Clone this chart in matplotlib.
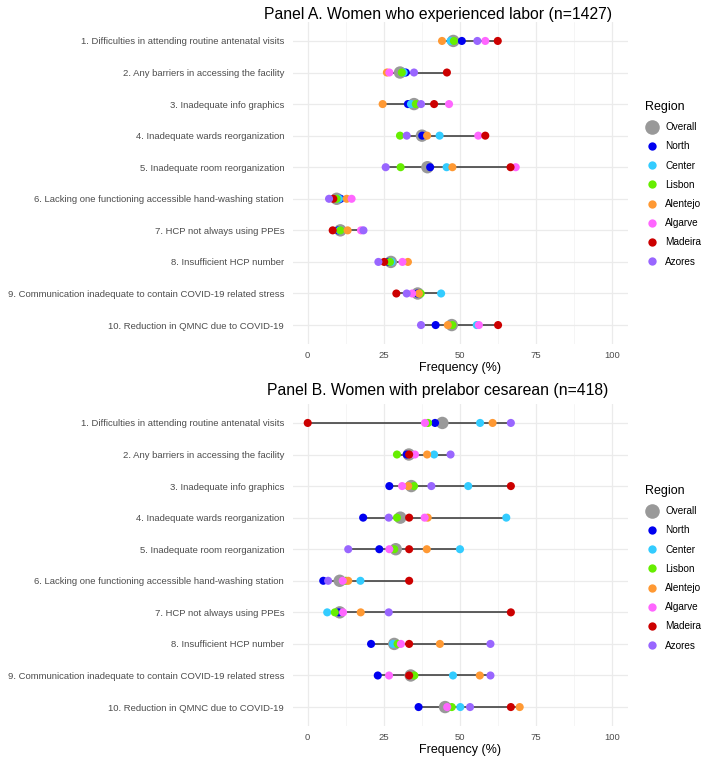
import matplotlib
matplotlib.use('Agg')
import matplotlib.pyplot as plt
from matplotlib.lines import Line2D
import numpy as np

plt.rcParams['font.family'] = ['Liberation Sans', 'DejaVu Sans']

items = ['1. Difficulties in attending routine antenatal visits',
         '2. Any barriers in accessing the facility',
         '3. Inadequate info graphics',
         '4. Inadequate wards reorganization',
         '5. Inadequate room reorganization',
         '6. Lacking one functioning accessible hand-washing station',
         '7. HCP not always using PPEs',
         '8. Insufficient HCP number',
         '9. Communication inadequate to contain COVID-19 related stress',
         '10. Reduction in QMNC due to COVID-19']

regions = ['Overall', 'North', 'Center', 'Lisbon', 'Alentejo', 'Algarve', 'Madeira', 'Azores']
colors = ['#999999', '#0000F0', '#33CCFF', '#66EE00', '#FF9933', '#FF66FF', '#CC0000', '#9966FF']

# Panel A - women who experienced labor (%)
a_overall  = [47.8, 30.3, 34.9, 37.5, 39.3,  9.5, 10.7, 27.3, 36.1, 47.3]
a_north    = [50.6, 32.2, 32.9, 37.6, 40.2, 10.8, 10.0, 26.5, 36.0, 42.0]
a_center   = [46.9, 31.5, 33.9, 43.3, 45.6, 10.3, 10.5, 27.5, 43.8, 55.5]
a_lisbon   = [48.0, 30.9, 35.5, 30.3, 30.5,  9.5, 10.7, 27.0, 37.1, 47.5]
a_alentejo = [44.1, 26.0, 24.6, 39.2, 47.5, 12.8, 13.1, 32.9, 36.5, 46.0]
a_algarve  = [58.3, 26.8, 46.4, 56.0, 68.3, 14.4, 17.5, 31.1, 34.3, 56.2]
a_madeira  = [62.4, 45.7, 41.5, 58.3, 66.6,  8.4,  8.2, 25.1, 29.1, 62.5]
a_azores   = [55.7, 34.9, 37.2, 32.5, 25.6,  7.0, 18.3, 23.2, 32.5, 37.2]

# Panel B - women with prelabor cesarean (%)
b_overall  = [44.2, 33.2, 34.0, 30.4, 28.9, 10.5, 10.5, 28.4, 33.8, 45.1]
b_north    = [41.8, 32.5, 26.8, 18.2, 23.5,  5.1, 10.2, 20.8, 23.0, 36.4]
b_center   = [56.6, 41.5, 52.7, 65.2, 50.0, 17.3,  6.4, 28.0, 47.7, 50.1]
b_lisbon   = [39.5, 29.3, 34.9, 29.3, 28.4, 12.5,  8.9, 29.5, 35.0, 47.3]
b_alentejo = [60.7, 39.2, 33.0, 39.4, 39.1, 13.3, 17.4, 43.4, 56.5, 69.6]
b_algarve  = [38.5, 35.2, 31.0, 38.4, 26.8, 11.5, 11.6, 30.6, 26.7, 45.8]
b_madeira  = [0.0, 33.3, 66.7, 33.3, 33.3, 33.3, 66.7, 33.3, 33.3, 66.7]
b_azores   = [66.7, 46.9, 40.6, 26.6, 13.3,  6.7, 26.6, 60.0, 60.0, 53.3]

panel_a = [a_overall, a_north, a_center, a_lisbon, a_alentejo, a_algarve, a_madeira, a_azores]
panel_b = [b_overall, b_north, b_center, b_lisbon, b_alentejo, b_algarve, b_madeira, b_azores]

W, H = 709, 760
fig = plt.figure(figsize=(W / 100, H / 100), dpi=100)
fig.patch.set_facecolor('white')


def dumbbell(ax, series):
    vals = np.array(series)
    y = np.arange(1, len(items) + 1)
    # range line from min to max of every row
    ax.hlines(y, vals.min(axis=0), vals.max(axis=0), color='#333333', lw=1.1, zorder=2)
    for i, (name, col) in enumerate(zip(regions, colors)):
        s = 80 if name == 'Overall' else 34
        ax.scatter(vals[i], y, s=s, color=col, edgecolors='none', zorder=3 + i)
    ax.set_xlim(-5, 105)
    ax.set_ylim(10.6, 0.4)
    ax.set_yticks(y)
    ax.set_yticklabels(items)
    ax.set_xticks([0, 25, 50, 75, 100])
    ax.set_xticks([12.5, 37.5, 62.5, 87.5], minor=True)
    ax.grid(which='major', color='#EBEBEB', lw=0.9, zorder=0)
    ax.grid(which='minor', axis='x', color='#F2F2F2', lw=0.5, zorder=0)
    ax.set_axisbelow(True)
    for sp in ax.spines.values():
        sp.set_visible(False)
    ax.tick_params(which='both', length=0, labelsize=6.8, labelcolor='#4D4D4D')
    ax.tick_params(axis='y', pad=6)
    ax.tick_params(axis='x', pad=5)


def legend(ax, ytop):
    handles = []
    for name, col in zip(regions, colors):
        ms = 10.5 if name == 'Overall' else 6
        handles.append(Line2D([], [], ls='', marker='o', ms=ms, color=col, mec='none', label=name))
    leg = fig.legend(handles=handles, title='Region', loc='upper left',
                     bbox_to_anchor=(641 / W, 1 - ytop / H), frameon=False,
                     fontsize=7.2, title_fontsize=9, labelspacing=0.92,
                     handletextpad=0.6, handlelength=1.4, borderaxespad=0)
    leg._legend_box.align = 'left'


left, right = 292.5 / W, 627.5 / W
axA = fig.add_axes([left, 1 - 344 / H, right - left, (344 - 22) / H])
axB = fig.add_axes([left, 1 - 726 / H, right - left, (726 - 404) / H])
dumbbell(axA, panel_a)
dumbbell(axB, panel_b)

fig.text(438 / W, 1 - 14 / H, 'Panel A. Women who experienced labor (n=1427)',
         ha='center', va='center', fontsize=11.3)
fig.text(438 / W, 1 - 391 / H, 'Panel B. Women with prelabor cesarean (n=418)',
         ha='center', va='center', fontsize=11.3)
fig.text(460 / W, 1 - 368 / H, 'Frequency (%)', ha='center', va='center', fontsize=9)
fig.text(460 / W, 1 - 750 / H, 'Frequency (%)', ha='center', va='center', fontsize=9)

legend(axA, 97)
legend(axB, 481)

fig.savefig('out.png', dpi=100)
